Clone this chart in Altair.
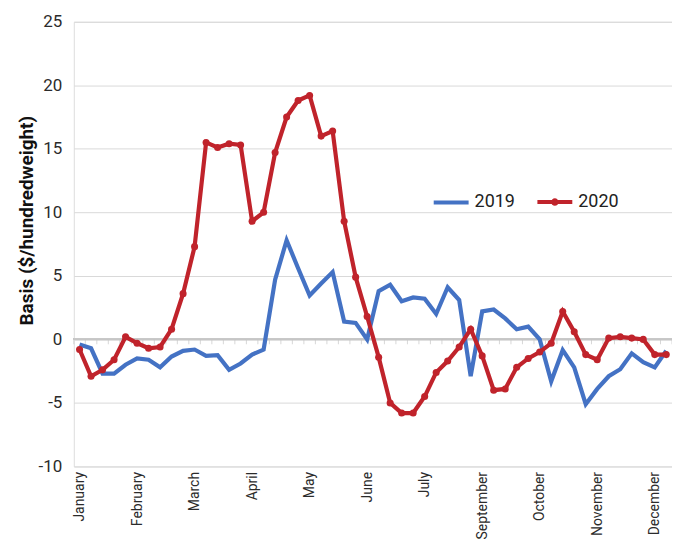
import altair as alt
import pandas as pd

FONT = "Roboto, 'Liberation Sans', sans-serif"

weeks = list(range(52))

basis_2019 = [
    -0.4, -0.7, -2.7, -2.7, -2.0, -1.5, -1.6, -2.2, -1.35, -0.9,
    -0.8, -1.3, -1.25, -2.4, -1.9, -1.2, -0.8, 4.7, 7.8, 5.6,
    3.45, 4.4, 5.3, 1.4, 1.3, 0.0, 3.8, 4.3, 3.0, 3.3,
    3.2, 2.0, 4.1, 3.1, -2.9, 2.2, 2.35, 1.65, 0.8, 1.0,
    0.0, -3.3, -0.85, -2.2, -5.1, -3.9, -2.9, -2.35, -1.1, -1.8,
    -2.2, -0.9,
]

basis_2020 = [
    -0.8, -2.9, -2.4, -1.6, 0.2, -0.3, -0.7, -0.6, 0.8, 3.6,
    7.3, 15.5, 15.1, 15.4, 15.3, 9.3, 10.0, 14.7, 17.5, 18.8,
    19.2, 16.0, 16.4, 9.3, 4.9, 1.8, -1.4, -5.0, -5.8, -5.8,
    -4.5, -2.6, -1.7, -0.6, 0.8, -1.3, -4.0, -3.9, -2.2, -1.5,
    -1.0, -0.3, 2.2, 0.6, -1.2, -1.6, 0.1, 0.2, 0.1, 0.0,
    -1.2, -1.2,
]

series_names = ["2019", "2020"]
series_colors = ["#4472C4", "#C0232B"]

month_labels = ["January", "February", "March", "April", "May", "June",
                "July", "September", "October", "November", "December"]
month_label_weeks = [0, 5, 10, 15, 20, 25, 30, 35, 40, 45, 50]

y_ticks = [-10, -5, 0, 5, 10, 15, 20, 25]

df = pd.DataFrame({
    "week": weeks * 2,
    "basis": basis_2019 + basis_2020,
    "series": [series_names[0]] * len(weeks) + [series_names[1]] * len(weeks),
})
df_2020 = df[df["series"] == series_names[1]]
tick_df = pd.DataFrame({"boundary": [w - 0.5 for w in weeks] + [weeks[-1] + 0.5]})

label_expr = ""
for w, m in zip(month_label_weeks, month_labels):
    label_expr += f"datum.value == {w} ? '{m}' : "
label_expr += "''"

x_scale = alt.Scale(domain=[-0.5, 51.5], nice=False, zero=False)
y_scale = alt.Scale(domain=[-10, 25], nice=False, zero=False)

x_axis = alt.Axis(values=month_label_weeks, labelExpr=label_expr, labelAngle=270,
                  labelAlign="right", labelBaseline="middle", ticks=False,
                  domain=False, grid=False, title=None, labelPadding=5,
                  labelFontSize=14, labelFont=FONT, labelColor="#2b2b2b")
y_axis = alt.Axis(values=y_ticks, ticks=False, domain=False, grid=True,
                  gridColor="#d9d9d9", gridWidth=1, labelPadding=12,
                  labelExpr="datum.value < 0 ? '-' + abs(datum.value) : '' + datum.value",
                  labelFontSize=17, labelFont=FONT, labelColor="#2b2b2b",
                  title="Basis ($/hundredweight)", titleFont=FONT,
                  titleFontSize=19, titleFontWeight="bold", titleColor="#111",
                  titleX=-41, titleY=199, titleAngle=270, titleAlign="center",
                  titleBaseline="alphabetic")

legend = alt.Legend(
    title=None, orient="none", legendX=359, legendY=161, direction="horizontal",
    symbolType={"expr": "datum.value == '2020' ? 'M-1,0H1M-0.1,0A0.1,0.1,0,1,1,0.1,0A0.1,0.1,0,1,1,-0.1,0' : 'M-1,0H1'"},
    symbolSize=1225, symbolStrokeWidth=4, labelFontSize=18, labelFont=FONT,
    labelColor="#222", columnPadding=14, labelOffset=4, padding=0,
)

base_y = alt.Y("basis:Q", scale=y_scale, axis=y_axis)

zero_rule = alt.Chart(tick_df).mark_rule(color="#c6c6c6", strokeWidth=1.2).encode(
    y=alt.datum(0, scale=y_scale)
)

ticks = alt.Chart(tick_df).mark_tick(
    orient="vertical", size=5, yOffset=2.5, color="#c6c6c6", thickness=1
).encode(
    x=alt.X("boundary:Q", scale=x_scale, axis=x_axis),
    y=alt.datum(0, scale=y_scale),
)

lines = alt.Chart(df).mark_line(strokeWidth=4.2, strokeJoin="miter").encode(
    x=alt.X("week:Q", scale=x_scale, axis=x_axis),
    y=base_y,
    color=alt.Color("series:N",
                    scale=alt.Scale(domain=series_names, range=series_colors),
                    legend=legend),
    detail="series:N",
)

points = alt.Chart(df_2020).mark_circle(size=50, opacity=1).encode(
    x=alt.X("week:Q", scale=x_scale, axis=x_axis),
    y=base_y,
    color=alt.Color("series:N",
                    scale=alt.Scale(domain=series_names, range=series_colors),
                    legend=None),
)

chart = alt.layer(zero_rule, ticks, lines, points).properties(
    width=600, height=446,
    padding={"left": 66, "top": 13, "right": 0, "bottom": 75},
    autosize=alt.AutoSizeParams(type="none"),
).configure_view(stroke=None).configure(background="white")

chart.save("out.html", embed_options={"renderer": "svg", "actions": False})
